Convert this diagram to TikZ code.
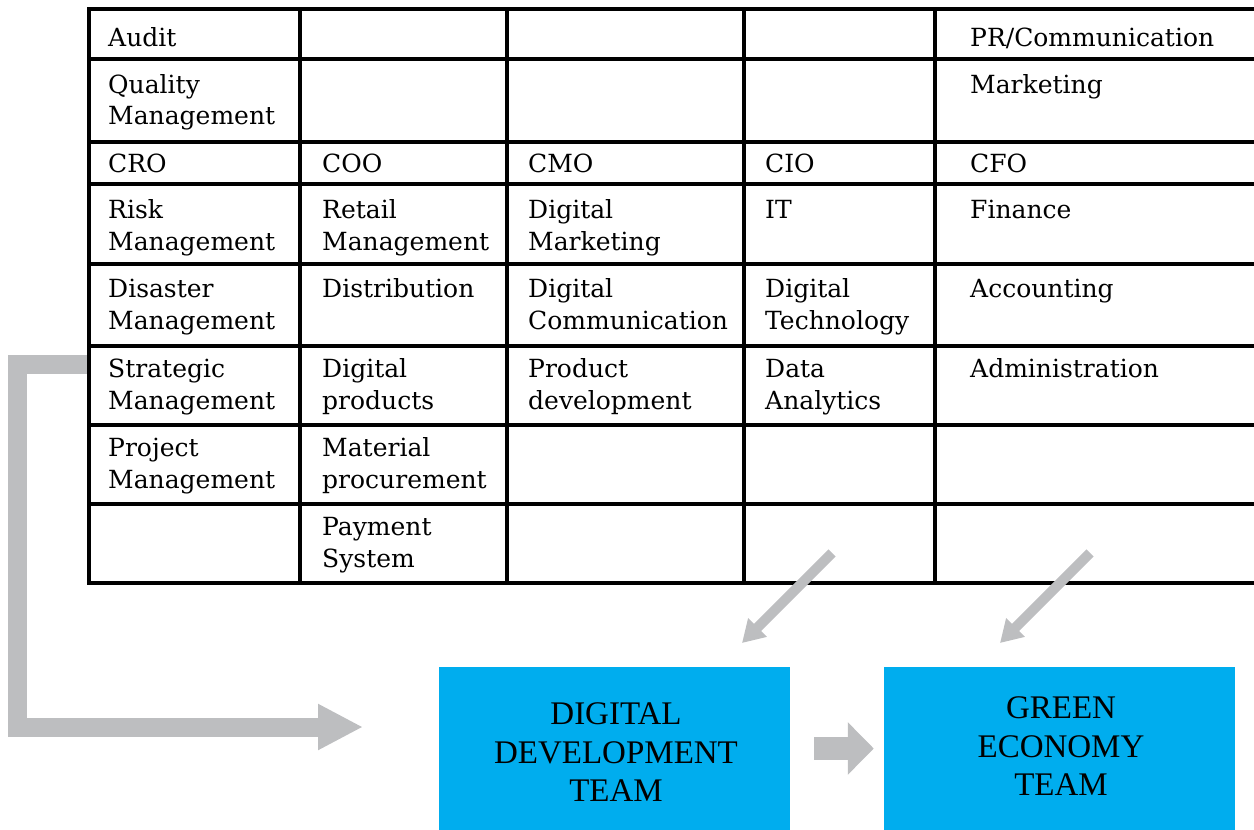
\documentclass[tikz,border=0pt]{standalone}
\usepackage{fontspec}
\setmainfont{DejaVu Serif}
\newfontfamily\boxfont{Liberation Serif}
\usetikzlibrary{arrows.meta}
\definecolor{teamblue}{HTML}{00ADEE}
\definecolor{arrowgray}{HTML}{BDBEC0}
\tikzset{
  grid/.style={line width=3.2pt, line cap=rect, black},
  cell/.style={anchor=base west, align=left, inner sep=0pt, font=\fontsize{25}{31.5}\selectfont},
  teambox/.style={fill=teamblue, draw=none, minimum width=351pt, minimum height=163pt, inner sep=0pt},
  teamtext/.style={align=center, inner sep=0pt, font=\boxfont\fontsize{33}{38.5}\selectfont},
  bigarrow/.style={draw=arrowgray, line width=19pt, line join=miter, -{Triangle[length=45pt,width=43pt,fill=arrowgray]}},
  diagarrow/.style={draw=arrowgray, line width=10pt, -{Triangle[length=22pt,width=25pt,fill=arrowgray]}},
  midarrow/.style={draw=arrowgray, line width=23pt, -{Triangle[length=26pt,width=51pt,fill=arrowgray]}},
}
\begin{document}
\begin{tikzpicture}[x=1pt, y=-1pt]
\useasboundingbox (0,0) rectangle (1254,830);
% big L arrow (behind the table)
\coordinate (stratedge) at (89,364);
\coordinate (ddtin) at (363,727);
\draw[bigarrow] (stratedge) -- (17,364) -- (17,727) -- (ddtin);
% table grid
\foreach \y in {9,59,142,184,264,346,425,504,583}
  \draw[grid] (89,\y) -- (1254,\y);
\foreach \x in {89,300,507,744,935}
  \draw[grid] (\x,9) -- (\x,583);
% (base anchor of a two-line cell = baseline of its last line)
% row 1
\node[cell] (c11) at (108,46) {Audit};
\node[cell] (c15) at (970,46) {PR/Communication};
% row 2
\node[cell] (c21) at (108,124.5) {Quality\\Management};
\node[cell] (c25) at (970,93) {Marketing};
% row 3
\node[cell] (c31) at (108,172) {CRO};
\node[cell] (c32) at (322,172) {COO};
\node[cell] (c33) at (528,172) {CMO};
\node[cell] (c34) at (765,172) {CIO};
\node[cell] (c35) at (970,172) {CFO};
% row 4
\node[cell] (c41) at (108,250) {Risk\\Management};
\node[cell] (c42) at (322,250) {Retail\\Management};
\node[cell] (c43) at (528,250) {Digital\\Marketing};
\node[cell] (c44) at (765,218.5) {IT};
\node[cell] (c45) at (970,218.5) {Finance};
% row 5
\node[cell] (c51) at (108,329) {Disaster\\Management};
\node[cell] (c52) at (322,297.5) {Distribution};
\node[cell] (c53) at (528,329) {Digital\\Communication};
\node[cell] (c54) at (765,329) {Digital\\Technology};
\node[cell] (c55) at (970,297.5) {Accounting};
% row 6
\node[cell] (c61) at (108,409) {Strategic\\Management};
\node[cell] (c62) at (322,409) {Digital\\products};
\node[cell] (c63) at (528,409) {Product\\development};
\node[cell] (c64) at (765,409) {Data\\Analytics};
\node[cell] (c65) at (970,377.5) {Administration};
% row 7
\node[cell] (c71) at (108,488) {Project\\Management};
\node[cell] (c72) at (322,488) {Material\\procurement};
% row 8
\node[cell] (c82) at (322,567) {Payment\\System};
% team boxes
\node[teambox] (ddt) at (614.5,748.5) {};
\node[teamtext] (ddtt) at (616,752.5) {DIGITAL\\DEVELOPMENT\\TEAM};
\node[teambox] (get) at (1059.5,748.5) {};
\node[teamtext] (gett) at (1061,746.5) {GREEN\\ECONOMY\\TEAM};
% arrows
\coordinate (d1s) at (832,553);
\coordinate (d1e) at (742,643);
\coordinate (d2s) at (1090,553);
\coordinate (d2e) at (1000,643);
\draw[diagarrow] (d1s) -- (d1e);
\draw[diagarrow] (d2s) -- (d2e);
\draw[midarrow] ([xshift=24pt]ddt.east) -- ([xshift=-10pt]get.west);
\end{tikzpicture}
\end{document}
